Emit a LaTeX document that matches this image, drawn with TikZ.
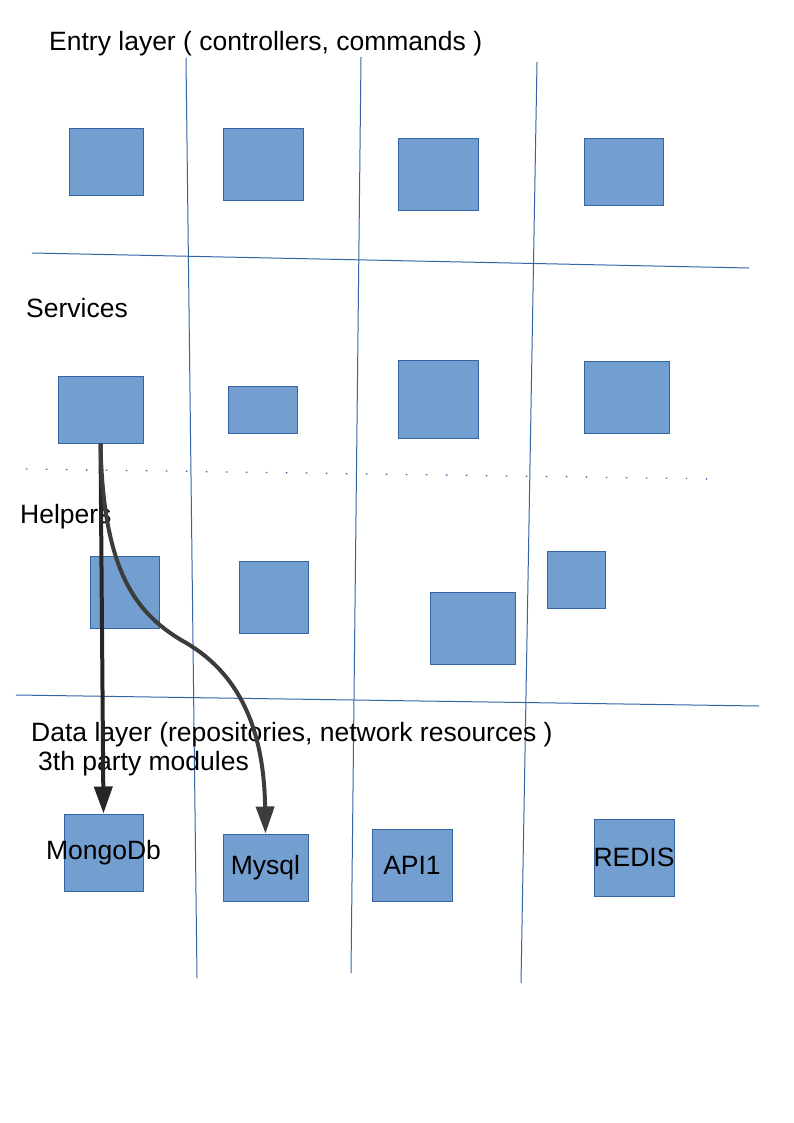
\documentclass[tikz,border=0pt]{standalone}
\usepackage{fontspec}
\setmainfont{Liberation Sans}
\usepackage{tikz}
\usetikzlibrary{arrows.meta}

\definecolor{boxfill}{HTML}{729FCF}
\definecolor{boxline}{HTML}{3465A4}
\definecolor{arrowdark}{HTML}{262626}

\begin{document}
\begin{tikzpicture}[x=1pt,y=-1pt,
    every node/.style={font=\fontsize{26.5}{29.5}\selectfont, inner sep=0pt},
    layerbox/.style={draw=boxline, fill=boxfill, line width=1pt},
    grid line/.style={boxline, line width=1pt},
    flow/.style={arrowdark, line width=4pt, -{Triangle[width=18pt,length=27pt]}}]
    \useasboundingbox (0,0) rectangle (794,1123);

    % Column lines
    \draw[grid line] (186,58) -- (197,978);
    \draw[grid line] (361,57) -- (351,973);
    \draw[grid line] (537,62) -- (521,983);

    % Layer lines
    \draw[grid line] (32,253) -- (749,268);
    \draw[boxline, line width=1.3pt, dash pattern=on 1.3pt off 18.7pt] (26,469) -- (716,479);
    \draw[grid line] (16,695) -- (759,706);

    % Layer labels
    \node[anchor=base west] (entry) at (49,51) {Entry layer ( controllers, commands )};
    \node[anchor=base west] (services) at (26,317) {Services};
    \node[anchor=base west] (helpers) at (20,523) {Helpers};
    \node[anchor=base west] (data) at (31,741) {Data layer (repositories, network resources )};
    \node[anchor=base west] (party) at (38,770) {3th party modules};

    % Entry layer
    \node[layerbox, minimum width=74pt, minimum height=67pt] (ent1) at (106,162.5) {};
    \node[layerbox, minimum width=80pt, minimum height=72pt] (ent2) at (263,165) {};
    \node[layerbox, minimum width=80pt, minimum height=72pt] (ent3) at (438,175) {};
    \node[layerbox, minimum width=79pt, minimum height=67pt] (ent4) at (623.5,172.5) {};

    % Services
    \node[layerbox, minimum width=85pt, minimum height=67pt] (srv1) at (100.5,409.5) {};
    \node[layerbox, minimum width=69pt, minimum height=47pt] (srv2) at (262.5,409.5) {};
    \node[layerbox, minimum width=80pt, minimum height=78pt] (srv3) at (438,399) {};
    \node[layerbox, minimum width=85pt, minimum height=72pt] (srv4) at (626.5,397) {};

    % Helpers
    \node[layerbox, minimum width=69pt, minimum height=72pt] (hlp1) at (124.5,592) {};
    \node[layerbox, minimum width=69pt, minimum height=72pt] (hlp2) at (273.5,597) {};
    \node[layerbox, minimum width=85pt, minimum height=72pt] (hlp3) at (472.5,628) {};
    \node[layerbox, minimum width=58pt, minimum height=57pt] (hlp4) at (576,579.5) {};

    % Data layer (text may run over the box edge)
    \node[layerbox, minimum width=79pt, minimum height=77pt] (mongo) at (103.5,852.5) {\makebox[0pt]{MongoDb}};
    \node[layerbox, minimum width=85pt, minimum height=67pt] (mysql) at (265.5,867.5) {\makebox[0pt]{Mysql}};
    \node[layerbox, minimum width=80pt, minimum height=72pt] (api) at (412,865) {\makebox[0pt]{API1}};
    \node[layerbox, minimum width=80pt, minimum height=77pt] (redis) at (634,857.5) {\makebox[0pt]{REDIS}};

    % Calls
    \coordinate (bend) at (181,640);
    \draw[flow] (srv1.south) -- (mongo.north);
    \draw[flow, arrowdark!90!white] (srv1.south) .. controls (103,570) and (135,612) .. (bend)
        .. controls (240,672) and (264,730) .. (mysql.north);
\end{tikzpicture}
\end{document}
